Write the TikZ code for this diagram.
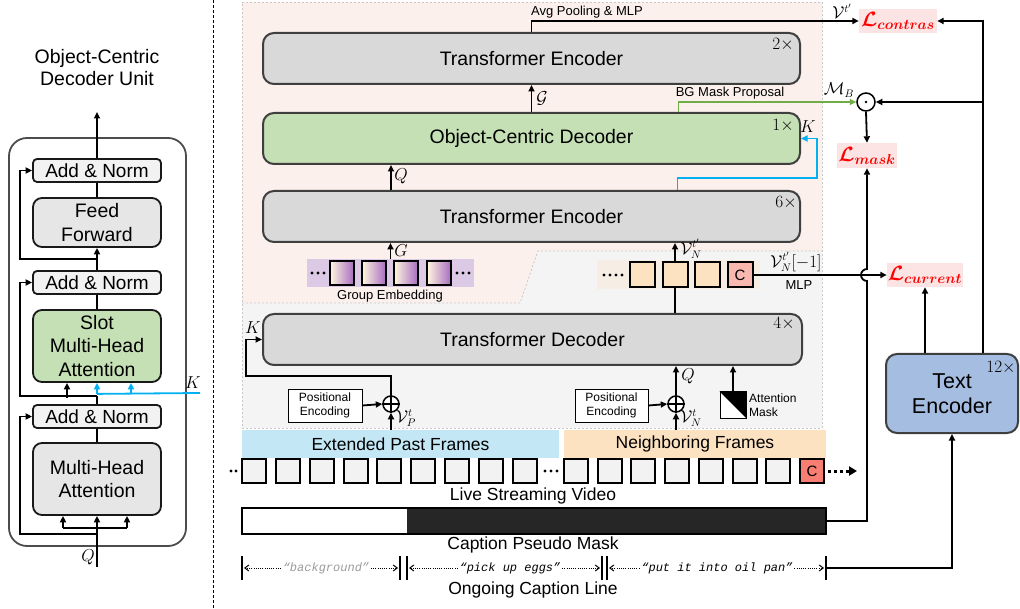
\documentclass[tikz,border=0pt]{standalone}
\usepackage{fontspec}
\setmainfont{Liberation Sans}
\newfontfamily\capmono{Liberation Mono}
\usepackage{amsmath,bm}
\usetikzlibrary{arrows.meta,calc}
\definecolor{bordc}{HTML}{3F3F3F}
\definecolor{tgray}{HTML}{D9D9D9}
\definecolor{lgray}{HTML}{F2F2F2}
\definecolor{mgray}{HTML}{E6E6E6}
\definecolor{tgreen}{HTML}{C5E0B4}
\definecolor{orgbg}{HTML}{FBF0EB}
\definecolor{grybg}{HTML}{F4F4F4}
\definecolor{dashc}{HTML}{C8C8C8}
\definecolor{pastb}{HTML}{C4E7F6}
\definecolor{neighb}{HTML}{FDE2C1}
\definecolor{tokp}{HTML}{FDE2C1}
\definecolor{tokstrip}{HTML}{F6EDE5}
\definecolor{ctokp}{HTML}{F8B8AF}
\definecolor{cfr}{HTML}{F87E74}
\definecolor{purstrip}{HTML}{DCC9E6}
\definecolor{cream}{HTML}{FEF6DE}
\definecolor{purp}{HTML}{A86CC1}
\definecolor{tencb}{HTML}{A4BDE0}
\definecolor{lpink}{HTML}{FCE4E4}
\definecolor{kblue}{HTML}{00B0F0}
\definecolor{bggreen}{HTML}{70AD47}
\definecolor{capgray}{HTML}{9A9A9A}
\definecolor{maskdark}{HTML}{262626}
\newcommand{\fsz}[2]{\fontsize{#1}{#2}\selectfont}
\newcommand{\rectnode}[6]{\node[#6, minimum width=#4pt-#2pt, minimum height=#5pt-#3pt] (#1) at ({(#2+#4)/2},{(#3+#5)/2})}
\tikzset{
 ln/.style={line width=1.8pt, draw=black},
 arr/.style={ln, -{Triangle[length=6.5pt,width=6pt]}},
 blk/.style={draw=bordc, line width=2pt, rounded corners=11pt, fill=tgray, inner sep=0pt, font=\fsz{19.5}{23}},
 grn/.style={blk, fill=tgreen},
 anorm/.style={draw=black!90, line width=1.8pt, rounded corners=4pt, fill=lgray, inner sep=0pt, font=\fsz{19}{22}},
 lblk/.style={draw=black!90, line width=1.8pt, rounded corners=9pt, fill=mgray, inner sep=0pt, align=center, font=\fsz{19.5}{23.5}},
 lgrn/.style={lblk, fill=tgreen},
 multl/.style={font=\fsz{16.5}{18}, inner sep=0pt},
 mlab/.style={font=\fsz{16}{17}, inner sep=0pt},
 smalltxt/.style={font=\fsz{13}{15}, inner sep=0pt},
 pebox/.style={draw=black, line width=0.8pt, fill=white, inner sep=0pt, align=center, font=\fsz{12}{14.5}},
 oplus/.style={circle, draw=black, line width=1.5pt, fill=white, minimum size=16pt, inner sep=0pt},
 lossbox/.style={fill=lpink, inner sep=0pt, text=red, font=\fsz{21}{24}},
 vframe/.style={draw=black, line width=2pt, fill=lgray, minimum size=24pt, inner sep=0pt},
 tok/.style={draw=black, line width=2pt, fill=tokp, minimum size=25pt, inner sep=0pt},
 gtok/.style={draw=black, line width=2pt, left color=cream, right color=purp, minimum size=24pt, inner sep=0pt},
 sbar/.style={inner sep=0pt, font=\fsz{17.5}{20}},
 capt/.style={font=\fsz{17.5}{20}, inner sep=0pt},
 tickln/.style={line width=2pt},
 dotarr/.style={line width=1pt, dash pattern=on 1pt off 1.2pt, -{Straight Barb[length=4pt,width=6pt]}},
 capword/.style={font=\fsz{12}{15}\capmono\itshape, inner sep=1.5pt},
 barr/.style={line width=1.8pt, draw=kblue, -{Triangle[length=6.5pt,width=6pt]}},
 garr/.style={line width=1.8pt, draw=bggreen, -{Triangle[length=6.5pt,width=6pt]}},
}
\begin{document}
\begin{tikzpicture}[x=1pt,y=-1pt]
\useasboundingbox (0,0) rectangle (1020,609);
% backgrounds
\fill[orgbg] (242,2) -- (822,2) -- (822,251) -- (538,251) -- (520,303) -- (242,303) -- cycle;
\fill[grybg] (242,303) -- (520,303) -- (538,251) -- (822,251) -- (822,428) -- (242,428) -- cycle;
\draw[dashc, line width=0.8pt, dash pattern=on 2pt off 2pt] (242,2) -- (822,2) -- (822,428) -- (242,428) -- cycle;
\draw[dashc, line width=0.8pt, dash pattern=on 2pt off 2pt] (242,303) -- (520,303) -- (538,251) -- (822,251);
% separator
\draw[line width=1pt, dash pattern=on 3pt off 2pt] (213,0) -- (213,609);

% ---------- left panel ----------
\node[font=\fsz{19.5}{22}, align=center, inner sep=0pt] (title) at (97,68) {Object-Centric\\Decoder Unit};
\rectnode{outer}{9}{138}{186}{546}{draw=black!70, line width=1.8pt, rounded corners=18pt, inner sep=0pt} {};
\rectnode{an1}{33}{159}{161}{182}{anorm} {Add \& Norm};
\rectnode{ff}{33}{198}{161}{247}{lblk} {Feed\\Forward};
\rectnode{an2}{33}{271}{161}{294}{anorm} {Add \& Norm};
\rectnode{smha}{33}{310}{161}{382}{lgrn} {Slot\\Multi-Head\\Attention};
\rectnode{an3}{33}{405}{161}{428}{anorm} {Add \& Norm};
\rectnode{mha}{33}{443}{161}{515}{lblk} {Multi-Head\\Attention};
\coordinate (qin) at (97,567);
\coordinate (uout) at (97,112);
\coordinate (kin) at (200,393);
\draw[arr] (qin) -- (mha.south);
\node[mlab] at (88,557) {$Q$};
\draw[ln] ($(mha.south)+(-34,12)$) -- ($(mha.south)+(30,12)$);
\draw[arr] ($(mha.south)+(-34,12)$) -- ($(mha.south)+(-34,0)$);
\draw[arr] ($(mha.south)+(30,12)$) -- ($(mha.south)+(30,0)$);
\draw[arr] ($(mha.south)+(0,18)$) -| ($(an3.west)+(-12,0)$) -- (an3.west);
\draw[ln] (mha.north) -- (an3.south);
\draw[ln] (an3.north) -- ($(an3.north)+(0,-8)$);
\draw[arr] ($(an3.north)+(0,-8)$) -| ($(an2.west)+(-12,0)$) -- (an2.west);
\draw[arr] ($(smha.south)+(-30,15)$) -- ($(smha.south)+(-30,0)$);
\draw[kblue, line width=1.8pt] (kin) -- ($(smha.south)+(0,11)$);
\draw[barr] ($(smha.south)+(0,11)$) -- (smha.south);
\draw[barr] ($(smha.south)+(34,11)$) -- ($(smha.south)+(34,0)$);
\node[mlab] at (193,383) {$K$};
\draw[ln] (smha.north) -- (an2.south);
\draw[arr] (an2.north) -- (ff.south);
\draw[arr] ($(ff.south)+(0,11)$) -| ($(an1.west)+(-12,0)$) -- (an1.west);
\draw[ln] (ff.north) -- (an1.south);
\draw[arr] (an1.north) -- (uout);

% ---------- main blocks ----------
\rectnode{te2}{263}{33}{800}{84}{blk} {Transformer Encoder};
\rectnode{ocd}{263}{113}{800}{164}{grn} {Object-Centric Decoder};
\rectnode{te6}{263}{191}{800}{242}{blk} {Transformer Encoder};
\rectnode{tdec}{263}{314}{802}{365}{blk} {Transformer Decoder};
\node[multl] at (783,45) {$2\times$};
\node[multl] at (783,126) {$1\times$};
\node[mlab] at (808,127) {$K$};
\node[multl] at (786,203) {$6\times$};
\node[multl] at (784,324) {$4\times$};

\rectnode{lcon}{859}{9}{937}{33}{lossbox} {$\bm{\mathcal{L}_{contras}}$};
\rectnode{lmask}{837}{143}{897}{168}{lossbox} {$\bm{\mathcal{L}_{mask}}$};
\rectnode{lcur}{887}{263}{963}{287}{lossbox} {$\bm{\mathcal{L}_{current}}$};
\node[circle, draw, line width=1.5pt, fill=white, minimum size=18pt, inner sep=0pt] (odot) at (866,102) {};
\fill (odot.center) circle (1.4);
\rectnode{tenc}{886}{354}{1018}{433}{blk, fill=tencb, align=center, font=\fsz{21.5}{25}} {Text\\Encoder};
\node[multl] at (1001,368) {$12\times$};

\coordinate (busb) at ($(tenc.north east)+(-36,0)$);
\draw[arr] (te2.north) |- (lcon.west);
\node[smalltxt] at (587,12) {Avg Pooling \& MLP};
\node[mlab] at (842,11) {$\mathcal{V}^{t'}$};
\draw[arr] (busb) |- (lcon.east);
\draw[arr] (odot.east -| busb) -- (odot.east);
\draw[garr] ($(ocd.north)+(147,0)$) |- (odot.west);
\node[smalltxt] at (730,93) {BG Mask Proposal};
\node[mlab] at (839,90) {$\mathcal{M}_B$};
\draw[arr] (odot.south) -- (lmask.north);
\draw[arr] (ocd.north) -- (te2.south);
\node[mlab] at (542,98) {$\mathcal{G}$};
\draw[arr] ($(te6.north)+(-140.5,0)$) -- ($(ocd.south)+(-140.5,0)$);
\node[mlab] at (401,176) {$Q$};
\coordinate (kb1) at (817,178);
\draw[barr] ($(te6.north)+(146,0)$) |- (kb1) |- (ocd.east);

% group embedding
\rectnode{ge}{307}{259}{474}{287}{fill=purstrip, inner sep=0pt} {};
\node[gtok] (g1) at (342,273) {};
\node[gtok] (g2) at (374,273) {};
\node[gtok] (g3) at (406,273) {};
\node[gtok] (g4) at (439,273) {};
\foreach \xx in {312,318,324,457,463,469} \fill (\xx,273) circle (1.6);
\draw[arr] (ge.north) -- (ge.north |- te6.south);
\node[mlab] at (401,251) {$G$};
\node[smalltxt] at (390,296) {Group Embedding};

% token strip
\rectnode{ts}{597}{260}{760}{289}{fill=tokstrip, inner sep=0pt} {};
\node[tok] (t1) at (642,275) {};
\node[tok] (t2) at (675,275) {};
\node[tok] (t3) at (707,275) {};
\node[tok, fill=ctokp, font=\fsz{15}{18}] (tc) at (740,275) {C};
\foreach \xx in {604,610,616,622} \fill (\xx,275) circle (1.6);
\draw[ln] (t2.south |- tdec.north) -- (t2.south);
\draw[arr] (t2.north) -- (t2.north |- te6.south);
\node[mlab] at (691,249) {$\mathcal{V}_N^{t'}$};
\node[mlab] at (796,262) {$\mathcal{V}_N^{t'}[-1]$};
\node[smalltxt] at (799,285) {MLP};
\draw[arr] (tc.east) -- (lcur.west);

% decoder inputs
\node[oplus] (pl1) at (391,404) {};
\draw[line width=1.3pt] (pl1.north) -- (pl1.south) (pl1.west) -- (pl1.east);
\rectnode{pe1}{288}{389}{362}{422}{pebox} {Positional\\Encoding};
\draw[arr] (pe1.east) -- (pl1.west);
\draw[arr] (pl1.north) -- ($(pl1.north)+(0,-19)$) -| ($(tdec.west)+(-16,0)$) -- (tdec.west);
\node[mlab] at (253,328) {$K$};
\node[oplus] (pl2) at (676,404) {};
\draw[line width=1.3pt] (pl2.north) -- (pl2.south) (pl2.west) -- (pl2.east);
\rectnode{pe2}{575}{389}{648}{422}{pebox} {Positional\\Encoding};
\draw[arr] (pe2.east) -- (pl2.west);
\draw[arr] (pl2.north) -- (pl2.north |- tdec.south);
\node[mlab] at (688,376) {$Q$};
\rectnode{am}{720}{392}{746}{418}{draw=black, line width=1pt, fill=white, inner sep=0pt} {};
\fill (am.north west) -- (am.north east) -- (am.south east) -- cycle;
\node[font=\fsz{12}{14.5}, align=left, anchor=west, inner sep=0pt] (amt) at (749,405) {Attention\\Mask};
\draw[arr] (am.north) -- (am.north |- tdec.south);

% frame bars
\rectnode{ebar}{242}{430}{559}{458}{sbar, fill=pastb} {Extended Past Frames};
\rectnode{nbar}{564}{430}{826}{458}{sbar, fill=neighb} {Neighboring Frames};
\draw[arr] (pl1.south |- ebar.north) -- (pl1.south);
\node[mlab] at (406,418) {$\mathcal{V}_P^t$};
\draw[arr] (pl2.south |- nbar.north) -- (pl2.south);
\node[mlab] at (691,418) {$\mathcal{V}_N^t$};

\foreach \i in {0,...,8} \node[vframe] (pf\i) at ({254+33.85*\i},471) {};
\foreach \i in {0,...,6} \node[vframe] (nf\i) at ({576+33.7*\i},471) {};
\node[vframe, fill=cfr, font=\fsz{15}{18}] (cf) at (812,471) {C};
\foreach \xx in {231,236,545,551,557} \fill (\xx,471) circle (1.6);
\coordinate (vnext) at (857,471);
\draw[line width=3pt, dash pattern=on 3pt off 3pt, -{Triangle[length=8pt,width=9pt]}] ($(cf.east)+(3,0)$) -- (vnext);
\node[capt] at (533,496) {Live Streaming Video};

% caption pseudo mask
\rectnode{cpm}{242}{508}{826}{534}{fill=maskdark, inner sep=0pt} {};
\fill[white] (cpm.north west) rectangle (407,534);
\draw[line width=2pt] (cpm.north west) rectangle (cpm.south east);
\node[capt] at (533,545) {Caption Pseudo Mask};
\draw[arr] (cpm.east) -| ($(lmask.south |- lcur.west)+(0,6)$) arc[start angle=90, end angle=270, radius=6] -- (lmask.south);

% caption line
\foreach \xx in {242,400,407,602,607,826} \draw[tickln] (\xx,556) -- (\xx,580);
\coordinate (c0) at (244,568);
\coordinate (c1) at (398,568);
\coordinate (c2) at (409,568);
\coordinate (c3) at (600,568);
\coordinate (c4) at (609,568);
\coordinate (c5) at (824,568);
\coordinate (c6) at (826,568);
\node[capword, text=capgray] (w1) at (326,568) {“background”};
\draw[dotarr] (w1.west) -- (c0);
\draw[dotarr] (w1.east) -- (c1);
\node[capword] (w2) at (510,568) {“pick up eggs”};
\draw[dotarr] (w2.west) -- (c2);
\draw[dotarr] (w2.east) -- (c3);
\node[capword] (w3) at (717,568) {“put it into oil pan”};
\draw[dotarr] (w3.west) -- (c4);
\draw[dotarr] (w3.east) -- (c5);
\draw[arr] (c6) -| (tenc.south);
\node[capt] at (533,590) {Ongoing Caption Line};
\draw[arr] (lcur.south |- tenc.north) -- (lcur.south);
\end{tikzpicture}
\end{document}
